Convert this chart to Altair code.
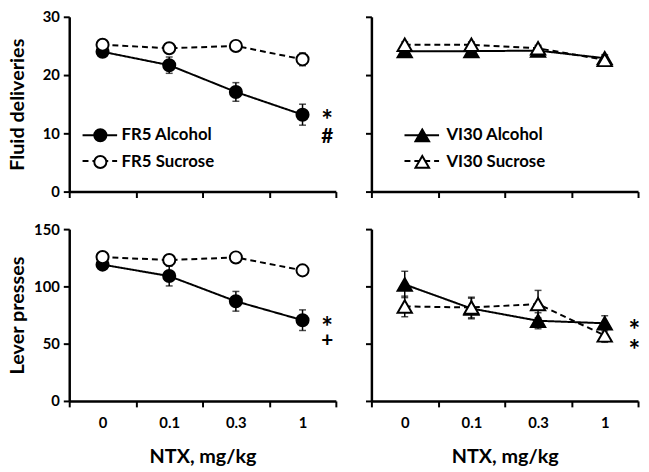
import altair as alt
import pandas as pd

doses = ["0", "0.1", "0.3", "1"]

# Fluid deliveries
fr5_alc_deliv = [24.0, 21.7, 17.1, 13.2]
fr5_alc_deliv_sem = [0.6, 1.4, 1.6, 1.8]
fr5_suc_deliv = [25.2, 24.6, 25.0, 22.7]
fr5_suc_deliv_sem = [0.5, 0.5, 0.4, 1.1]

vi30_alc_deliv = [24.1, 24.1, 24.2, 22.9]
vi30_alc_deliv_sem = [0.5, 0.5, 0.5, 0.6]
vi30_suc_deliv = [25.2, 25.2, 24.6, 22.6]
vi30_suc_deliv_sem = [0.5, 0.5, 0.5, 0.6]

# Lever presses
fr5_alc_press = [119, 109, 87, 70.5]
fr5_alc_press_sem = [3, 8.6, 8.6, 9]
fr5_suc_press = [125.6, 123, 125.3, 114]
fr5_suc_press_sem = [3, 3, 3, 3]

vi30_alc_press = [101.7, 80.7, 70, 67.8]
vi30_alc_press_sem = [11.5, 9, 7, 6.6]
vi30_suc_press = [82.5, 81.6, 84.5, 57.2]
vi30_suc_press_sem = [9, 9, 12, 6]

fr5_names = ["FR5 Alcohol", "FR5 Sucrose"]
vi30_names = ["VI30 Alcohol", "VI30 Sucrose"]

# significance marks
fr5_deliv_marks = ["*", "#"]
fr5_deliv_marks_y = [13.0, 9.3]
fr5_press_marks = ["*", "+"]
fr5_press_marks_y = [68, 52]
vi30_press_marks = ["*", "*"]
vi30_press_marks_y = [65.5, 47.7]

FONT = "Lato"


def panel(alc, alc_sem, suc, suc_sem, names, shape, ymax, ystep, height,
          ytitle, ylabels, xlabels, legend_xy, label_off, marks, marks_y, mark_dx):
    rows = []
    for name, vals, sems in [(names[0], alc, alc_sem), (names[1], suc, suc_sem)]:
        for d, v, s in zip(doses, vals, sems):
            rows.append({"dose": d, "mean": v, "sem": s, "ls": name, "pt": name})
    df = pd.DataFrame(rows)
    base = alt.Chart(df).transform_calculate(
        lo="datum.mean - datum.sem", hi="datum.mean + datum.sem"
    )
    xaxis = alt.Axis(
        tickBand="extent", labels=xlabels, labelAngle=0,
        title="NTX, mg/kg" if xlabels else None,
        labelPadding=9, titlePadding=16,
    )
    x = alt.X("dose:O", sort=doses,
              scale=alt.Scale(type="band", paddingInner=0, paddingOuter=0),
              axis=xaxis)
    yaxis = alt.Axis(
        values=list(range(0, ymax + 1, ystep)), labels=ylabels,
        title=ytitle if ylabels else None,
        titleX=-46, titleBaseline="alphabetic", labelPadding=4,
    )
    yscale = alt.Scale(domain=[0, ymax], nice=False)
    ttl = ytitle if ylabels else None

    err = base.mark_rule(color="black", strokeWidth=1.5).encode(
        x=x, y=alt.Y("lo:Q", scale=yscale, axis=yaxis, title=ttl), y2="hi:Q")
    cap_lo = base.mark_tick(color="black", thickness=1.5, size=7).encode(
        x=x, y=alt.Y("lo:Q", scale=yscale, axis=yaxis, title=ttl))
    cap_hi = base.mark_tick(color="black", thickness=1.5, size=7).encode(
        x=x, y=alt.Y("hi:Q", scale=yscale, axis=yaxis, title=ttl))

    if legend_xy is not None:
        lx, ly = legend_xy
        line_leg = alt.Legend(
            orient="none", legendX=lx - 18.5, legendY=ly, title=None,
            symbolType="stroke", symbolSize=1225, symbolStrokeColor="black",
            symbolStrokeWidth=2, clipHeight=16, rowPadding=10, padding=0,
            labelExpr="''", labelFontSize=1,
        )
        pt_leg = alt.Legend(
            orient="none", legendX=lx - 8, legendY=ly, title=None,
            symbolType=shape, symbolSize=150 if shape == "circle" else 190,
            symbolStrokeColor="black",
            symbolStrokeWidth=2, symbolOpacity=1, clipHeight=16, rowPadding=10,
            padding=0, labelOffset=label_off, labelFont=FONT, labelFontSize=17,
            labelFontWeight="bold", labelColor="black",
        )
    else:
        line_leg = None
        pt_leg = None

    line = base.mark_line(color="black", strokeWidth=2).encode(
        x=x, y=alt.Y("mean:Q", scale=yscale, axis=yaxis, title=ttl),
        strokeDash=alt.StrokeDash(
            "ls:N", scale=alt.Scale(domain=names, range=[[1, 0], [6, 4]]),
            legend=line_leg),
    )
    pts = base.mark_point(shape=shape, filled=True, size=150 if shape == "circle" else 210,
                          stroke="black", strokeWidth=2, opacity=1).encode(
        x=x, y=alt.Y("mean:Q", scale=yscale, axis=yaxis, title=ttl),
        fill=alt.Fill("pt:N", scale=alt.Scale(domain=names, range=["black", "white"]),
                      legend=pt_leg),
    )
    layers = [err, cap_lo, cap_hi, line, pts]
    if marks:
        mdf = pd.DataFrame({"dose": ["1"] * len(marks), "lab": marks, "yy": marks_y})
        mbase = alt.Chart(mdf)
        star = mbase.transform_filter(alt.datum.lab == "*").mark_text(
            font=FONT, fontWeight="bold", fontSize=28, dx=mark_dx, dy=6,
            baseline="middle", align="center", color="black", fill="black",
        ).encode(x=x, y=alt.Y("yy:Q", scale=yscale, axis=yaxis, title=ttl), text="lab:N")
        other = mbase.transform_filter(alt.datum.lab != "*").mark_text(
            font=FONT, fontWeight="bold", fontSize=21, dx=mark_dx,
            baseline="middle", align="center", color="black", fill="black",
        ).encode(x=x, y=alt.Y("yy:Q", scale=yscale, axis=yaxis, title=ttl), text="lab:N")
        layers += [star, other]
    return alt.layer(*layers).properties(width=270, height=height).resolve_scale(
        fill="independent", strokeDash="independent")


tl = panel(fr5_alc_deliv, fr5_alc_deliv_sem, fr5_suc_deliv, fr5_suc_deliv_sem,
           fr5_names, "circle", 30, 10, 177, "Fluid deliveries", True, False,
           (31, 112), 13, fr5_deliv_marks, fr5_deliv_marks_y, 25)
tr = panel(vi30_alc_deliv, vi30_alc_deliv_sem, vi30_suc_deliv, vi30_suc_deliv_sem,
           vi30_names, "triangle-up", 30, 10, 177, "Fluid deliveries", False, False,
           (51, 112), 16, [], [], 29)
bl = panel(fr5_alc_press, fr5_alc_press_sem, fr5_suc_press, fr5_suc_press_sem,
           fr5_names, "circle", 150, 50, 174, "Lever presses", True, True,
           None, 0, fr5_press_marks, fr5_press_marks_y, 25)
br = panel(vi30_alc_press, vi30_alc_press_sem, vi30_suc_press, vi30_suc_press_sem,
           vi30_names, "triangle-up", 150, 50, 174, "Lever presses", False, True,
           None, 0, vi30_press_marks, vi30_press_marks_y, 30)

res = dict(fill="independent", strokeDash="independent")
row1 = alt.hconcat(tl, tr, spacing=36, bounds="flush").resolve_scale(**res).resolve_legend(**res)
row2 = alt.hconcat(bl, br, spacing=36, bounds="flush").resolve_scale(**res).resolve_legend(**res)

chart = alt.vconcat(row1, row2, spacing=23).resolve_scale(**res).resolve_legend(**res).properties(
    padding={"left": 0, "top": -1, "right": 0, "bottom": 0},
    background="white",
).configure_view(stroke=None).configure_axis(
    domainColor="black", domainWidth=2.5, tickColor="black", tickWidth=2,
    tickSize=6, grid=False, labelFont=FONT, labelFontWeight="bold",
    labelFontSize=15, labelColor="black", titleFont=FONT,
    titleFontWeight="bold", titleFontSize=20, titleColor="black",
)

chart.save("out.html", embed_options={"renderer": "svg", "actions": False})
